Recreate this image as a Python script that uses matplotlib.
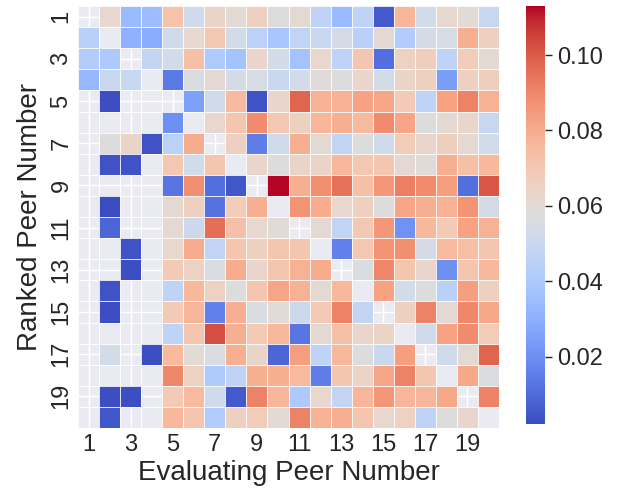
import numpy as np
import matplotlib
matplotlib.use("Agg")
import matplotlib.pyplot as plt

N = np.nan

# trust matrix: rows = ranked peer, columns = evaluating peer (NaN = no score)
peer_labels = [str(i) for i in range(1, 21)]

row_01 = [N, .062, .034, .035, .072, .052, .064, .060, .066, .058, .061, .046, .034, .046, .006, .077, .053, .062, .060, .049]
row_02 = [.044, N, .031, .029, .052, .062, .070, .053, .045, .039, .047, .050, .054, .044, .061, .042, .054, .055, .079, .066]
row_03 = [.042, .040, N, .048, .053, .073, .041, .037, .063, .053, .037, .062, .046, .071, .011, .065, .067, .046, .068, .061]
row_04 = [.033, .049, .049, N, .014, .056, .061, .054, .055, .050, .053, .059, .058, .063, .053, .064, .066, .024, .066, .067]
row_05 = [N, .003, N, N, N, .025, .052, .075, .004, .063, .098, .078, .078, .083, .082, .069, .046, .083, .091, .078]
row_06 = [N, N, N, N, .020, N, .062, .071, .089, .070, .066, .077, .079, .075, .089, .082, .058, .061, .063, .049]
row_07 = [N, .058, .064, .004, .045, .080, N, .066, .015, .052, .079, .061, .047, .058, .052, .068, .063, .067, .061, .053]
row_08 = [N, .004, .004, N, .070, .053, .071, N, .063, .058, .064, .064, .076, .070, .071, .061, .060, .079, .073, .076]
row_09 = [N, N, N, N, .013, .088, .011, .005, N, .113, .079, .088, .095, .073, .086, .092, .089, .084, .011, .101]
row_10 = [N, .0022, N, N, .061, .066, .012, .068, .079, N, .087, .080, .062, .066, .058, .082, .079, .078, .087, .054]
row_11 = [N, .009, N, N, .061, .051, .096, .073, .062, .060, N, .061, .047, .070, .086, .021, .076, .069, .083, .078]
row_12 = [N, N, .004, N, .062, .080, .047, .071, .066, .071, .071, N, .016, .070, .087, .088, .054, .075, .074, .071]
row_13 = [N, N, .003, N, .069, .065, .056, .080, .063, .071, .078, .080, N, .056, .090, .071, .063, .020, .071, .076]
row_14 = [N, .004, N, N, .046, .076, .065, .058, .071, .082, .078, .061, .076, N, .083, .053, .058, .044, .084, .066]
row_15 = [N, .003, N, N, .069, .077, .016, .079, .056, .060, .051, .069, .091, .048, N, .066, .091, .061, .090, .081]
row_16 = [N, N, N, N, .046, .071, .103, .079, .069, .076, .013, .061, .073, .063, .064, N, .052, .083, .089, .068]
row_17 = [N, .053, N, .003, .075, .060, .056, .079, .064, .009, .084, .046, .076, .058, .050, .084, N, .052, .061, .098]
row_18 = [N, N, N, N, .090, .065, .041, .046, .079, .079, .075, .015, .071, .064, .082, .091, .071, N, .081, .056]
row_19 = [N, .003, .003, N, .069, .075, .052, .006, .091, .077, .040, .062, .048, .077, .086, .077, .077, .081, N, .091]
row_20 = [N, .005, N, N, .076, .071, .042, .066, .068, .060, .091, .078, .079, .071, .062, .065, .046, .058, .063, N]

scores = np.array([row_01, row_02, row_03, row_04, row_05, row_06, row_07,
                   row_08, row_09, row_10, row_11, row_12, row_13, row_14,
                   row_15, row_16, row_17, row_18, row_19, row_20])

cbar_ticks = [0.02, 0.04, 0.06, 0.08, 0.10]

TXT = "#262626"
BG = "#EAEAF2"
plt.rcParams["font.family"] = ["Liberation Sans", "DejaVu Sans"]

fig = plt.figure(figsize=(6.24, 4.91), dpi=100)
ax = fig.add_axes([78 / 624, 1 - 428 / 491, 421 / 624, 422 / 491])
cax = fig.add_axes([526 / 624, 1 - 424 / 491, 19 / 624, 418 / 491])

ax.set_facecolor(BG)
ax.set_axisbelow(True)
mesh = ax.pcolormesh(np.ma.masked_invalid(scores), cmap="coolwarm",
                     edgecolors=(1, 1, 1, 0.85), linewidth=0.5)
n = scores.shape[0]
ax.set_xlim(0, n)
ax.set_ylim(n, 0)

pos = np.arange(0, n, 2) + 0.5
ax.set_xticks(pos)
ax.set_xticklabels(peer_labels[::2])
ax.set_yticks(pos)
ax.set_yticklabels(peer_labels[::2], rotation=90, va="center")
ax.grid(True, color="white", lw=1.0)
ax.tick_params(length=0, labelsize=17, labelcolor=TXT, pad=4)
for s in ax.spines.values():
    s.set_visible(False)

ax.set_xlabel("Evaluating Peer Number", fontsize=20, color=TXT, labelpad=3)
ax.set_ylabel("Ranked Peer Number", fontsize=20, color=TXT, labelpad=5)

cb = fig.colorbar(mesh, cax=cax, ticks=cbar_ticks, format="%.2f")
cb.outline.set_linewidth(0)
cax.tick_params(labelsize=17, labelcolor=TXT, color=TXT, length=5, width=1)

plt.savefig("out.png", dpi=100)
